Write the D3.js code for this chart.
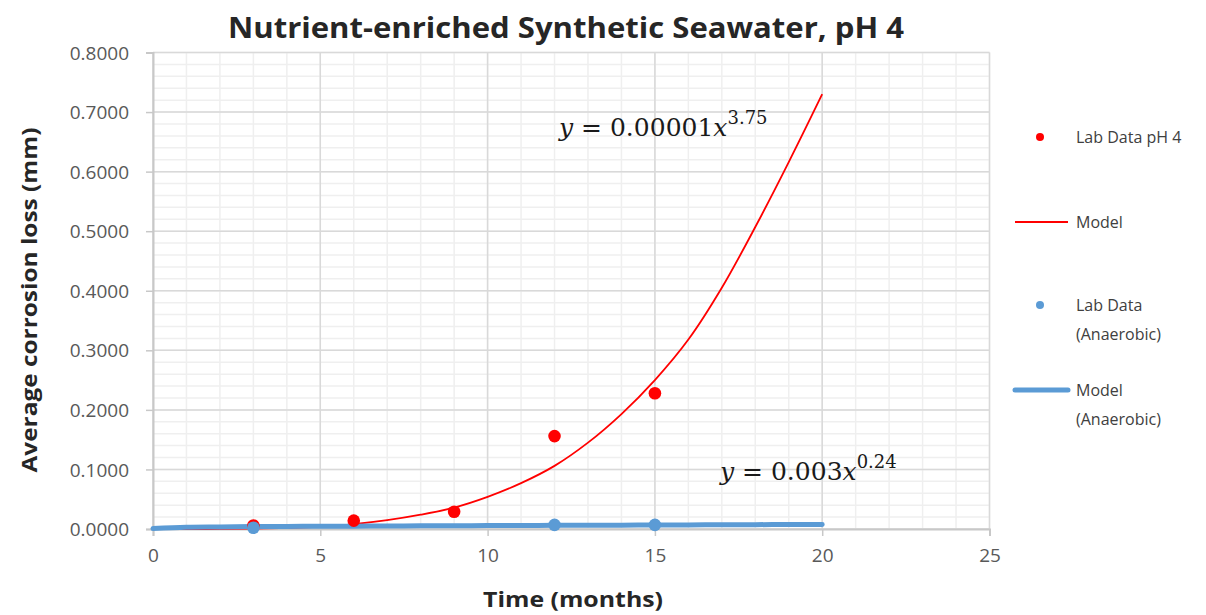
<!DOCTYPE html>
<html>
<head>
<meta charset="utf-8">
<script src="https://cdn.jsdelivr.net/npm/d3@7"></script>
<style>
  html, body { margin: 0; padding: 0; background: #fff; }
  svg { display: block; }
</style>
</head>
<body>
<svg id="chart" width="1206" height="615"></svg>
<script>
// Measured corrosion loss (mm) against exposure time (months)
const labMonths = [3, 6, 9, 12, 15];
const labLossPH4 = [0.006, 0.014, 0.029, 0.156, 0.228];

const anaerobicMonths = [3, 12, 15];
const anaerobicLoss = [0.002, 0.007, 0.007];

// Model curves, read at whole months 0..20
const modelMonths = [0, 1, 2, 3, 4, 5, 6, 7, 8, 9, 10, 11, 12, 13, 14, 15, 16, 17, 18, 19, 20];
const modelPH4 = [0, 0.0000, 0.0001, 0.0006, 0.0018, 0.0042, 0.0083, 0.0148, 0.024, 0.036, 0.054,
                  0.077, 0.106, 0.145, 0.193, 0.250, 0.318, 0.405, 0.507, 0.616, 0.730];
const modelAnaerobic = [0.0008, 0.0030, 0.0035, 0.0040, 0.0043, 0.0046, 0.0048, 0.0051, 0.0053, 0.0055, 0.0057,
                        0.0059, 0.0061, 0.0063, 0.0065, 0.0067, 0.0069, 0.0071, 0.0073, 0.0075, 0.0077];

const xTicks = [0, 5, 10, 15, 20, 25];
const yTicks = [0, 0.1, 0.2, 0.3, 0.4, 0.5, 0.6, 0.7, 0.8];

const legendLabels = [["Lab Data pH 4"], ["Model"], ["Lab Data", "(Anaerobic)"], ["Model", "(Anaerobic)"]];

const RED = "#ff0000";
const BLUE = "#5b9bd5";

const svg = d3.select("#chart");
const plotL = 153, plotR = 989.5, plotT = 52.5, plotB = 529;

const x = d3.scaleLinear().domain([0, 25]).range([plotL, plotR]);
const y = d3.scaleLinear().domain([0, 0.8]).range([plotB, plotT]);

// minor grid
const grid = svg.append("g");
grid.selectAll(".vminor").data(d3.range(0, 26, 1)).join("line")
  .attr("x1", d => x(d)).attr("x2", d => x(d))
  .attr("y1", plotT).attr("y2", plotB)
  .attr("stroke", "#efefef").attr("stroke-width", 1.5);
grid.selectAll(".hminor").data(d3.range(0, 41, 1).map(i => i * 0.02)).join("line")
  .attr("x1", plotL).attr("x2", plotR)
  .attr("y1", d => y(d)).attr("y2", d => y(d))
  .attr("stroke", "#efefef").attr("stroke-width", 1.5);
// major grid
grid.selectAll(".vmajor").data(xTicks).join("line")
  .attr("x1", d => x(d)).attr("x2", d => x(d))
  .attr("y1", plotT).attr("y2", plotB)
  .attr("stroke", "#d9d9d9").attr("stroke-width", 1.5);
grid.selectAll(".hmajor").data(yTicks).join("line")
  .attr("x1", plotL).attr("x2", plotR)
  .attr("y1", d => y(d)).attr("y2", d => y(d))
  .attr("stroke", "#d9d9d9").attr("stroke-width", 1.5);

// axes
const xAxis = svg.append("g").attr("transform", `translate(0,${plotB})`)
  .call(d3.axisBottom(x).tickValues(xTicks).tickFormat(d3.format("d")).tickSize(7).tickPadding(10));
const yAxis = svg.append("g").attr("transform", `translate(${plotL},0)`)
  .call(d3.axisLeft(y).tickValues(yTicks).tickFormat(d3.format(".4f")).tickSize(7).tickPadding(17));
[xAxis, yAxis].forEach(a => {
  a.select(".domain").attr("stroke", "#c8c8c8").attr("stroke-width", 2);
  a.selectAll(".tick line").attr("stroke", "#c8c8c8").attr("stroke-width", 1.5);
  a.selectAll(".tick text").attr("fill", "#595959")
    .style("font-family", "'Open Sans', 'Noto Sans', sans-serif").style("font-size", "19px");
});
xAxis.selectAll(".tick text").attr("dy", "0.85em");
yAxis.selectAll(".tick text").attr("dy", "0.35em");

// model curves
const line = vals => d3.line()
  .x((d, i) => x(modelMonths[i]))
  .y(d => y(d))
  .curve(d3.curveCatmullRom.alpha(0.5))(vals);

svg.append("path").attr("d", line(modelPH4))
  .attr("fill", "none").attr("stroke", RED).attr("stroke-width", 1.8);
svg.append("path").attr("d", line(modelAnaerobic))
  .attr("fill", "none").attr("stroke", BLUE).attr("stroke-width", 5)
  .attr("stroke-linecap", "round");

// data points
svg.append("g").selectAll("circle").data(labMonths).join("circle")
  .attr("cx", d => x(d)).attr("cy", (d, i) => y(labLossPH4[i])).attr("r", 6.3)
  .attr("fill", RED);
svg.append("g").selectAll("circle").data(anaerobicMonths).join("circle")
  .attr("cx", d => x(d)).attr("cy", (d, i) => y(anaerobicLoss[i])).attr("r", 6.3)
  .attr("fill", BLUE);

// title and axis titles
const boldFont = "'Open Sans', 'Noto Sans', sans-serif";
svg.append("text").attr("x", 566).attr("y", 38).attr("text-anchor", "middle")
  .attr("fill", "#262626").style("font-family", boldFont).style("font-weight", "700")
  .style("font-size", "28px").attr("textLength", 676).attr("lengthAdjust", "spacingAndGlyphs")
  .text("Nutrient-enriched Synthetic Seawater, pH 4");
svg.append("text").attr("x", 573).attr("y", 607).attr("text-anchor", "middle")
  .attr("fill", "#262626").style("font-family", boldFont).style("font-weight", "700")
  .style("font-size", "22px").attr("textLength", 180).attr("lengthAdjust", "spacingAndGlyphs")
  .text("Time (months)");
svg.append("text").attr("transform", "translate(37,300) rotate(-90)").attr("text-anchor", "middle")
  .attr("fill", "#262626").style("font-family", boldFont).style("font-weight", "700")
  .style("font-size", "22px").attr("textLength", 345).attr("lengthAdjust", "spacingAndGlyphs")
  .text("Average corrosion loss (mm)");

// fitted equations
function equation(xPos, yPos, coef, expo) {
  const t = svg.append("text").attr("x", xPos).attr("y", yPos)
    .attr("fill", "#1a1a1a").style("font-family", "'DejaVu Serif', 'Liberation Serif', serif")
    .style("font-size", "25px");
  t.append("tspan").style("font-style", "italic").text("y");
  t.append("tspan").text(" = " + coef);
  t.append("tspan").style("font-style", "italic").text("x");
  t.append("tspan").attr("dy", -12).style("font-size", "18px").text(expo);
}
equation(559, 136, "0.00001", "3.75");
equation(720, 480, "0.003", "0.24");

// legend
const lg = svg.append("g").style("font-family", "'Open Sans', 'Noto Sans', sans-serif")
  .style("font-size", "16px").attr("fill", "#404040");
const legendY = [137, 222, 305, 390];
lg.append("circle").attr("cx", 1040).attr("cy", legendY[0]).attr("r", 4).attr("fill", RED);
lg.append("line").attr("x1", 1015).attr("x2", 1068).attr("y1", legendY[1]).attr("y2", legendY[1])
  .attr("stroke", RED).attr("stroke-width", 1.8);
lg.append("circle").attr("cx", 1040).attr("cy", legendY[2]).attr("r", 4).attr("fill", BLUE);
lg.append("line").attr("x1", 1015).attr("x2", 1068).attr("y1", legendY[3]).attr("y2", legendY[3])
  .attr("stroke", BLUE).attr("stroke-width", 5).attr("stroke-linecap", "round");
legendLabels.forEach((lines, i) => {
  lines.forEach((s, j) => {
    lg.append("text").attr("x", 1076).attr("y", legendY[i] + j * 29).attr("dy", "0.35em")
      .attr("fill", "#404040").text(s);
  });
});
</script>
</body>
</html>
